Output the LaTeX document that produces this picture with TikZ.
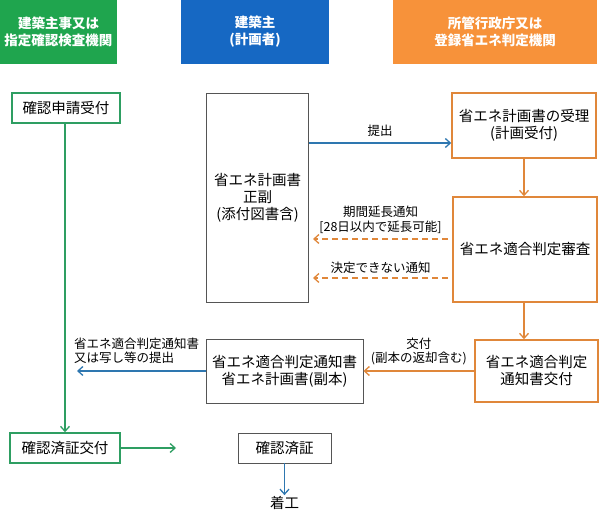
\documentclass[tikz,border=0pt]{standalone}
\usepackage{fontspec}
\setmainfont{Noto Sans CJK JP}
\usetikzlibrary{arrows.meta}
\definecolor{hgreen}{HTML}{1FA54E}
\definecolor{hblue}{HTML}{1668C3}
\definecolor{horange}{HTML}{F7923A}
\definecolor{bgreen}{HTML}{2E9E62}
\definecolor{borange}{HTML}{E0873A}
\definecolor{ablue}{HTML}{2E77B0}
\definecolor{bgray}{HTML}{555555}
\tikzset{
  hdr/.style={fill=#1, draw=none, text=white, font=\fontsize{13.5}{17}\selectfont\bfseries, align=center, minimum height=64pt, inner sep=0pt},
  gbox/.style={draw=bgreen, line width=1.5pt, font=\fontsize{14.5}{17}\selectfont, align=center, inner sep=0pt},
  obox/.style={draw=borange, line width=1.5pt, font=\fontsize{14.5}{17}\selectfont, align=center, inner sep=0pt},
  kbox/.style={draw=bgray, line width=0.9pt, font=\fontsize{14.5}{17}\selectfont, align=center, inner sep=0pt},
  lbl/.style={font=\fontsize{12.5}{14.5}\selectfont, align=center, inner sep=0pt},
  arr/.style={-{Straight Barb[length=5pt,width=9pt]}, line width=1.3pt},
  dsh/.style={dash pattern=on 6pt off 4pt},
}
\begin{document}
\begin{tikzpicture}[x=1pt,y=-1pt]
\useasboundingbox (0,0) rectangle (600,518);
% headers
\node[hdr=hgreen, minimum width=117pt] (h1) at (58.5,32) {建築主事又は\\指定確認検査機関};
\node[hdr=hblue, minimum width=148pt] (h2) at (255,32) {建築主\\(計画者)};
\node[hdr=horange, minimum width=204pt] (h3) at (495,32) {所管行政庁又は\\登録省エネ判定機関};
% left column
\node[gbox, minimum width=108pt, minimum height=30pt] (g1) at (66,108) {確認申請受付};
\node[gbox, minimum width=110pt, minimum height=30pt] (g2) at (65,448) {確認済証交付};
% middle column
\node[kbox, minimum width=102pt, minimum height=209pt] (k1) at (257.5,197.5) {省エネ計画書\\正副\\(添付図書含)};
\node[kbox, minimum width=157pt, minimum height=64pt] (k2) at (284.5,371) {省エネ適合判定通知書\\省エネ計画書(副本)};
\node[kbox, minimum width=93pt, minimum height=30pt] (k3) at (284.5,448) {確認済証};
\node[font=\fontsize{14.5}{17}\selectfont, inner sep=1pt] (k4) at (284.5,503) {着工};
% right column
\node[obox, minimum width=144pt, minimum height=65pt] (o1) at (524,125.5) {省エネ計画書の受理\\(計画受付)};
\node[obox, minimum width=144pt, minimum height=105pt] (o2) at (525,249.5) {省エネ適合判定審査};
\node[obox, minimum width=123pt, minimum height=62pt] (o3) at (536.5,371) {省エネ適合判定\\通知書交付};
% free ends
\coordinate (c1) at (77,371);
\coordinate (c2) at (176,448);
\coordinate (d1s) at (448,239);
\coordinate (d1e) at (313,239);
\coordinate (d2s) at (448,278);
\coordinate (d2e) at (313,278);
% connectors
\draw[arr, bgreen] (g1.south -| 65,0) -- (g2.north -| 65,0);
\draw[arr, ablue] (k1.east |- 0,143) -- node[lbl, text=black, above=6pt] (l1) {提出} (o1.west |- 0,143);
\draw[arr, borange, dsh] (d1s) -- node[lbl, text=black, above=5pt] (l2) {期間延長通知\\{[28日以内で延長可能]}} (d1e);
\draw[arr, borange, dsh] (d2s) -- node[lbl, text=black, above=4pt] (l3) {決定できない通知} (d2e);
\draw[arr, borange] (o1.south -| 524,0) -- (o2.north -| 524,0);
\draw[arr, borange] (o2.south -| 524,0) -- (o3.north -| 524,0);
\draw[arr, borange] (o3.west) -- node[lbl, text=black, above=5pt] (l4) {交付\\(副本の返却含む)} (k2.east);
\draw[arr, ablue] (k2.west) -- (c1);
\node[lbl, align=left, anchor=south west] (l5) at (74,364) {省エネ適合判定通知書\\又は写し等の提出};
\draw[arr, bgreen] (g2.east) -- (c2);
\draw[arr, ablue] (k3.south) -- (k4.north);
\end{tikzpicture}
\end{document}
